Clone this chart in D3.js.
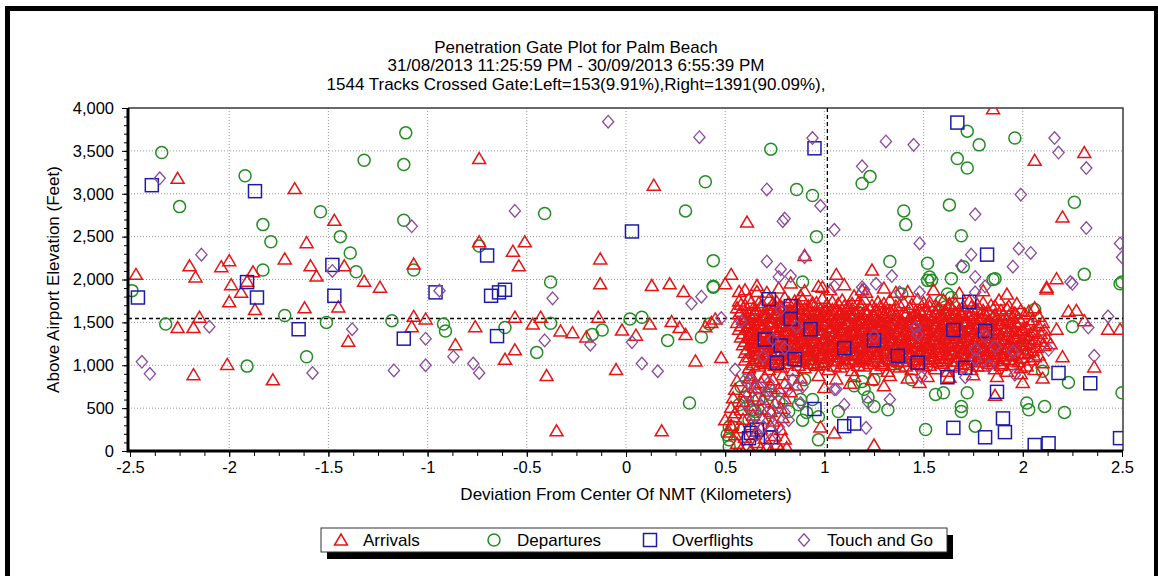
<!DOCTYPE html>
<html><head><meta charset="utf-8">
<script src="https://cdn.jsdelivr.net/npm/d3@7"></script>
<style>body{margin:0;background:#fff}svg{display:block}text{font-family:"Liberation Sans",Arial,sans-serif}</style>
</head><body><svg id="c" width="1158" height="576"></svg>
<script>
const titleLines = ["Penetration Gate Plot for Palm Beach","31/08/2013 11:25:59 PM - 30/09/2013 6:55:39 PM","1544 Tracks Crossed Gate:Left=153(9.91%),Right=1391(90.09%),"];
const xTicks = [-2.5,-2,-1.5,-1,-0.5,0,0.5,1,1.5,2,2.5];
const xTickLabels = ["-2.5","-2","-1.5","-1","-0.5","0","0.5","1","1.5","2","2.5"];
const yTicks = [0,500,1000,1500,2000,2500,3000,3500,4000];
const yTickLabels = ["0","500","1,000","1,500","2,000","2,500","3,000","3,500","4,000"];
const xTitle = "Deviation From Center Of NMT (Kilometers)";
const yTitle = "Above Airport Elevation (Feet)";
const gateX = 1.015, gateY = 1545;
const seriesNames = ["Arrivals","Departures","Overflights","Touch and Go"];

const arrivalsSparse = [[-2.47,2060],[-2.26,3180],[-2.2,2160],[-2.17,2030],[-2.26,1440],[-2.18,1440],[-2.15,1560],[-2.18,890],[-2.04,2150],[-2.0,2220],[-1.99,1940],[-1.94,1850],[-2.0,1740],[-1.88,2090],[-1.91,1980],[-1.87,1650],[-2.01,1010],[-1.78,830],[-1.72,2240],[-1.67,3060],[-1.61,2430],[-1.59,2160],[-1.56,2040],[-1.62,1670],[-1.47,2690],[-1.45,1680],[-1.42,2160],[-1.32,1980],[-1.24,1910],[-1.4,1280],[-1.07,2180],[-1.07,1570],[-1.08,1450],[-1.01,1540],[-0.86,1240],[-0.74,3410],[-0.74,2440],[-0.76,1450],[-0.61,1070],[-0.56,1180],[-0.57,2330],[-0.54,2160],[-0.56,1560],
[0.14,3100],[-0.13,2240],[-0.13,1950],[-0.51,2440],[0.61,2670],[0.9,2280],[1.85,3990],[2.06,3390],[2.31,3480],[2.2,2730],[2.17,2010],[2.12,1910],[1.24,2110],[1.06,2060],[0.13,1930],[0.22,1950],[0.53,2060],[0.5,1950],[0.99,1910],[1.21,1850],[1.36,1850],[0.29,1860],[0.57,1860],[0.66,1860],[0.88,1810],[1.15,1810],
[-0.47,1480],[-0.43,1560],[-0.4,880],[-0.35,235],[-0.33,1400],[-0.27,1380],[-0.2,1330],[-0.14,1560],[-0.05,950],[-0.02,1410],[0.05,1350],[0.12,1480],[0.18,235],[0.23,1510],[0.27,1440],[0.35,1050],[0.4,1450],[0.45,1540],[0.43,1500],[0.48,1090],[0.3,1360],
[0.5,364],[0.55,446],[0.52,223],[0.98,280],[1.25,70],[1.05,210],[1.86,650],[2.1,850],
[2.12,1890],[2.23,1630],[2.27,1640],[2.43,1420],[2.36,980],[2.0,800],[2.49,1420],[2.17,1420],[2.14,1250],[2.2,1100],[2.31,1520]];

const arrivalsCore = [
[0.6,1880],[0.66,1930],[0.71,1850],[0.77,1900],[0.83,1960],[0.9,1870],[0.97,1920],[1.03,1880],[1.1,1940],[1.19,1880],[1.3,1900],[1.42,1860],[1.55,1880],[1.68,1840],[1.8,1870],[1.92,1830],
[0.57,1750],[0.62,1780],[0.67,1730],[0.72,1770],[0.76,1740],[0.8,1790],[0.85,1750],[0.89,1770],[0.94,1730],[0.99,1780],[1.04,1740],[1.09,1760],[1.14,1720],[1.2,1770],[1.27,1740],[1.33,1760],[1.4,1730],[1.47,1770],[1.53,1740],[1.6,1760],[1.66,1720],[1.73,1750],[1.8,1730],[1.88,1760],[1.97,1720],
[0.56,1670],[0.6,1700],[0.64,1660],[0.68,1690],[0.72,1650],[0.75,1700],[0.79,1670],[0.83,1640],[0.86,1690],[0.9,1660],[0.94,1700],[0.98,1650],[1.02,1680],[1.06,1640],[1.1,1690],[1.14,1660],[1.19,1700],[1.23,1650],[1.28,1680],[1.33,1640],[1.38,1700],[1.43,1670],[1.48,1640],[1.53,1690],[1.58,1660],[1.63,1700],[1.68,1650],[1.74,1680],[1.8,1640],[1.86,1690],[1.92,1660],[1.99,1640],[2.06,1670],
[0.57,1600],[0.61,1570],[0.65,1610],[0.69,1580],[0.72,1550],[0.76,1600],[0.8,1570],[0.83,1610],[0.87,1560],[0.91,1590],[0.95,1620],[0.98,1570],[1.02,1600],[1.06,1560],[1.1,1610],[1.13,1580],[1.17,1550],[1.21,1600],[1.25,1570],[1.29,1610],[1.33,1580],[1.37,1550],[1.41,1600],[1.45,1570],[1.49,1610],[1.53,1580],[1.57,1550],[1.61,1600],[1.65,1570],[1.69,1610],[1.73,1580],[1.77,1550],[1.81,1600],[1.85,1570],[1.9,1590],[1.95,1560],[2.01,1600],[2.08,1570],
[0.56,1500],[0.6,1530],[0.63,1490],[0.67,1520],[0.7,1480],[0.74,1510],[0.77,1540],[0.81,1490],[0.84,1520],[0.88,1480],[0.91,1530],[0.95,1500],[0.98,1470],[1.01,1520],[1.05,1490],[1.08,1530],[1.12,1500],[1.15,1470],[1.19,1520],[1.22,1490],[1.26,1530],[1.29,1500],[1.33,1470],[1.36,1520],[1.4,1490],[1.43,1530],[1.47,1500],[1.5,1470],[1.54,1520],[1.57,1490],[1.61,1530],[1.64,1500],[1.68,1470],[1.71,1520],[1.75,1490],[1.78,1530],[1.82,1500],[1.86,1470],[1.9,1520],[1.94,1490],[1.99,1510],[2.04,1480],[2.1,1500],
[0.57,1420],[0.61,1440],[0.64,1400],[0.68,1430],[0.71,1390],[0.75,1420],[0.78,1450],[0.82,1400],[0.85,1430],[0.89,1390],[0.92,1440],[0.96,1410],[0.99,1380],[1.03,1430],[1.06,1400],[1.1,1440],[1.13,1410],[1.17,1380],[1.2,1430],[1.24,1400],[1.27,1440],[1.31,1410],[1.34,1380],[1.38,1430],[1.41,1400],[1.45,1440],[1.48,1410],[1.52,1380],[1.55,1430],[1.59,1400],[1.62,1440],[1.66,1410],[1.69,1380],[1.73,1430],[1.76,1400],[1.8,1440],[1.83,1410],[1.87,1380],[1.91,1430],[1.95,1400],[2.0,1420],[2.05,1390],[2.11,1410],
[0.58,1330],[0.62,1350],[0.65,1310],[0.69,1340],[0.72,1300],[0.76,1330],[0.79,1360],[0.83,1310],[0.86,1340],[0.9,1300],[0.93,1350],[0.97,1320],[1.0,1290],[1.04,1340],[1.07,1310],[1.11,1350],[1.14,1320],[1.18,1290],[1.21,1340],[1.25,1310],[1.28,1350],[1.32,1320],[1.35,1290],[1.39,1340],[1.42,1310],[1.46,1350],[1.49,1320],[1.53,1290],[1.56,1340],[1.6,1310],[1.63,1350],[1.67,1320],[1.7,1290],[1.74,1340],[1.77,1310],[1.81,1350],[1.84,1320],[1.88,1290],[1.92,1340],[1.96,1310],[2.01,1330],[2.06,1300],[2.12,1320],
[0.59,1240],[0.63,1260],[0.66,1220],[0.7,1250],[0.73,1210],[0.77,1240],[0.8,1270],[0.84,1220],[0.87,1250],[0.91,1210],[0.94,1260],[0.98,1230],[1.01,1200],[1.05,1250],[1.08,1220],[1.12,1260],[1.15,1230],[1.19,1200],[1.22,1250],[1.26,1220],[1.29,1260],[1.33,1230],[1.36,1200],[1.4,1250],[1.43,1220],[1.47,1260],[1.5,1230],[1.54,1200],[1.57,1250],[1.61,1220],[1.64,1260],[1.68,1230],[1.71,1200],[1.75,1250],[1.78,1220],[1.82,1260],[1.85,1230],[1.89,1200],[1.93,1250],[1.97,1220],[2.02,1240],[2.07,1210],[2.11,1230],
[0.6,1150],[0.64,1170],[0.67,1130],[0.71,1160],[0.74,1120],[0.78,1150],[0.81,1180],[0.85,1130],[0.88,1160],[0.92,1120],[0.95,1170],[0.99,1140],[1.02,1110],[1.06,1160],[1.09,1130],[1.13,1170],[1.16,1140],[1.2,1110],[1.23,1160],[1.27,1130],[1.3,1170],[1.34,1140],[1.37,1110],[1.41,1160],[1.44,1130],[1.48,1170],[1.51,1140],[1.55,1110],[1.58,1160],[1.62,1130],[1.65,1170],[1.69,1140],[1.72,1110],[1.76,1160],[1.79,1130],[1.83,1170],[1.86,1140],[1.9,1110],[1.94,1160],[1.98,1130],[2.03,1150],[2.08,1120],
[0.6,1060],[0.65,1080],[0.69,1040],[0.73,1070],[0.77,1030],[0.81,1060],[0.85,1090],[0.89,1040],[0.93,1070],[0.97,1030],[1.01,1080],[1.05,1050],[1.09,1020],[1.13,1070],[1.17,1040],[1.21,1080],[1.25,1050],[1.29,1020],[1.33,1070],[1.37,1040],[1.41,1080],[1.45,1050],[1.49,1020],[1.53,1070],[1.57,1040],[1.61,1080],[1.65,1050],[1.69,1020],[1.73,1070],[1.77,1040],[1.81,1080],[1.85,1050],[1.89,1020],[1.93,1070],[1.98,1040],[2.04,1060],[2.1,1030],
[0.62,970],[0.67,990],[0.72,950],[0.78,980],[0.84,940],[0.9,970],[0.96,1000],[1.02,950],[1.08,980],[1.14,940],[1.2,990],[1.26,960],[1.32,930],[1.38,980],[1.44,950],[1.5,990],[1.56,960],[1.62,930],[1.68,980],[1.74,950],[1.8,990],[1.86,960],[1.92,930],[1.99,970],[2.06,950],
[0.63,880],[0.7,860],[0.79,890],[0.88,850],[0.97,880],[1.06,840],[1.15,870],[1.24,830],[1.33,880],[1.42,850],[1.52,870],[1.63,860],[1.75,890],[1.87,870],[1.99,900],
[0.65,780],[0.73,750],[0.86,770],[1.0,740],[1.13,790],[1.3,760],[1.48,800]];

const arrivalsCore2 = [
[0.58,1710],[0.63,1730],[0.69,1700],[0.74,1720],[0.78,1690],[0.82,1730],[0.87,1710],[0.92,1690],[0.96,1730],[1.01,1700],[1.07,1720],[1.12,1690],[1.17,1730],[1.24,1700],[1.3,1720],[1.36,1690],[1.44,1710],[1.5,1730],[1.56,1700],[1.63,1720],[1.7,1690],[1.77,1710],[1.84,1700],[1.93,1690],
[0.58,1630],[0.62,1610],[0.66,1640],[0.7,1620],[0.74,1650],[0.77,1610],[0.81,1630],[0.85,1650],[0.88,1620],[0.92,1640],[0.96,1610],[1.0,1630],[1.04,1650],[1.08,1620],[1.12,1640],[1.16,1610],[1.21,1630],[1.26,1650],[1.31,1620],[1.35,1640],[1.4,1610],[1.46,1630],[1.51,1650],[1.56,1620],[1.61,1640],[1.66,1610],[1.71,1630],[1.77,1650],[1.83,1620],[1.89,1640],[1.96,1610],[2.03,1630],
[0.59,1540],[0.63,1560],[0.67,1530],[0.7,1550],[0.74,1570],[0.78,1530],[0.81,1550],[0.85,1530],[0.89,1560],[0.93,1540],[0.96,1520],[1.0,1560],[1.04,1540],[1.08,1520],[1.11,1550],[1.15,1570],[1.19,1530],[1.23,1550],[1.27,1520],[1.31,1560],[1.35,1540],[1.39,1520],[1.43,1560],[1.47,1540],[1.51,1520],[1.55,1550],[1.59,1570],[1.63,1530],[1.67,1550],[1.71,1520],[1.75,1560],[1.79,1540],[1.83,1520],[1.87,1550],[1.92,1530],[1.98,1550],[2.05,1530],
[0.58,1460],[0.62,1440],[0.65,1470],[0.69,1450],[0.72,1480],[0.76,1440],[0.79,1460],[0.83,1480],[0.86,1450],[0.9,1470],[0.93,1440],[0.97,1460],[1.0,1480],[1.03,1450],[1.07,1470],[1.1,1440],[1.14,1460],[1.17,1480],[1.21,1450],[1.24,1470],[1.28,1440],[1.31,1460],[1.35,1480],[1.38,1450],[1.42,1470],[1.45,1440],[1.49,1460],[1.52,1480],[1.56,1450],[1.59,1470],[1.63,1440],[1.66,1460],[1.7,1480],[1.73,1450],[1.77,1470],[1.8,1440],[1.84,1460],[1.88,1480],[1.92,1450],[1.97,1470],[2.02,1440],[2.08,1460],
[0.59,1370],[0.63,1390],[0.66,1360],[0.7,1380],[0.73,1350],[0.77,1390],[0.8,1370],[0.84,1350],[0.87,1390],[0.91,1370],[0.94,1350],[0.98,1380],[1.01,1360],[1.05,1390],[1.08,1370],[1.12,1350],[1.15,1380],[1.19,1360],[1.22,1390],[1.26,1370],[1.29,1350],[1.33,1380],[1.36,1360],[1.4,1390],[1.43,1370],[1.47,1350],[1.5,1380],[1.54,1360],[1.57,1390],[1.61,1370],[1.64,1350],[1.68,1380],[1.71,1360],[1.75,1390],[1.78,1370],[1.82,1350],[1.85,1380],[1.89,1360],[1.93,1390],[1.98,1370],[2.03,1350],[2.09,1370],
[0.6,1280],[0.64,1300],[0.67,1270],[0.71,1290],[0.74,1260],[0.78,1300],[0.81,1280],[0.85,1260],[0.88,1300],[0.92,1280],[0.95,1260],[0.99,1290],[1.02,1270],[1.06,1300],[1.09,1280],[1.13,1260],[1.16,1290],[1.2,1270],[1.23,1300],[1.27,1280],[1.3,1260],[1.34,1290],[1.37,1270],[1.41,1300],[1.44,1280],[1.48,1260],[1.51,1290],[1.55,1270],[1.58,1300],[1.62,1280],[1.65,1260],[1.69,1290],[1.72,1270],[1.76,1300],[1.79,1280],[1.83,1260],[1.86,1290],[1.9,1270],[1.94,1300],[1.99,1280],[2.04,1260],[2.09,1280],
[0.61,1190],[0.65,1210],[0.68,1180],[0.72,1200],[0.75,1170],[0.79,1210],[0.82,1190],[0.86,1170],[0.89,1210],[0.93,1190],[0.96,1170],[1.0,1200],[1.03,1180],[1.07,1210],[1.1,1190],[1.14,1170],[1.17,1200],[1.21,1180],[1.24,1210],[1.28,1190],[1.31,1170],[1.35,1200],[1.38,1180],[1.42,1210],[1.45,1190],[1.49,1170],[1.52,1200],[1.56,1180],[1.59,1210],[1.63,1190],[1.66,1170],[1.7,1200],[1.73,1180],[1.77,1210],[1.8,1190],[1.84,1170],[1.87,1200],[1.91,1180],[1.95,1210],[2.0,1190],[2.05,1170],
[0.62,1100],[0.66,1120],[0.7,1090],[0.74,1110],[0.78,1080],[0.82,1120],[0.86,1100],[0.9,1080],[0.94,1110],[0.98,1090],[1.02,1120],[1.06,1100],[1.1,1080],[1.14,1110],[1.18,1090],[1.22,1120],[1.26,1100],[1.3,1080],[1.34,1110],[1.38,1090],[1.42,1120],[1.46,1100],[1.5,1080],[1.54,1110],[1.58,1090],[1.62,1120],[1.66,1100],[1.7,1080],[1.74,1110],[1.78,1090],[1.82,1120],[1.86,1100],[1.9,1080],[1.95,1110],[2.0,1090],[2.06,1100],
[0.64,1010],[0.7,1020],[0.75,1000],[0.81,1020],[0.87,1000],[0.93,1020],[0.99,1010],[1.05,990],[1.11,1020],[1.17,1000],[1.23,1020],[1.29,1000],[1.35,1010],[1.41,990],[1.47,1020],[1.53,1000],[1.59,1020],[1.65,1000],[1.71,1010],[1.77,990],[1.83,1020],[1.89,1000],[1.95,1010],[2.02,990]];

const arrivalsCore3 = [
[0.64,1590],[0.7,1575],[0.75,1595],[0.81,1585],[0.86,1600],[0.92,1575],[0.97,1590],[1.03,1580],[1.08,1595],[1.14,1575],[1.19,1590],[1.25,1585],[1.3,1600],[1.36,1575],[1.41,1590],[1.47,1580],[1.52,1595],[1.58,1575],[1.63,1590],[1.69,1585],[1.74,1600],[1.8,1575],[1.86,1590],[1.93,1580],
[0.62,1500],[0.67,1485],[0.73,1505],[0.78,1495],[0.84,1510],[0.89,1485],[0.95,1500],[1.0,1490],[1.06,1505],[1.11,1485],[1.17,1500],[1.22,1495],[1.28,1510],[1.33,1485],[1.39,1500],[1.44,1490],[1.5,1505],[1.55,1485],[1.61,1500],[1.66,1495],[1.72,1510],[1.77,1485],[1.83,1500],[1.89,1490],[1.96,1505],
[0.64,1410],[0.7,1395],[0.75,1415],[0.81,1405],[0.86,1420],[0.92,1395],[0.97,1410],[1.03,1400],[1.08,1415],[1.14,1395],[1.19,1410],[1.25,1405],[1.3,1420],[1.36,1395],[1.41,1410],[1.47,1400],[1.52,1415],[1.58,1395],[1.63,1410],[1.69,1405],[1.74,1420],[1.8,1395],[1.86,1410],[1.93,1400],[2.0,1405],
[0.62,1320],[0.67,1305],[0.73,1325],[0.78,1315],[0.84,1330],[0.89,1305],[0.95,1320],[1.0,1310],[1.06,1325],[1.11,1305],[1.17,1320],[1.22,1315],[1.28,1330],[1.33,1305],[1.39,1320],[1.44,1310],[1.5,1325],[1.55,1305],[1.61,1320],[1.66,1315],[1.72,1330],[1.77,1305],[1.83,1320],[1.89,1310],[1.96,1325],[2.03,1310],
[0.64,1230],[0.7,1215],[0.75,1235],[0.81,1225],[0.86,1240],[0.92,1215],[0.97,1230],[1.03,1220],[1.08,1235],[1.14,1215],[1.19,1230],[1.25,1225],[1.3,1240],[1.36,1215],[1.41,1230],[1.47,1220],[1.52,1235],[1.58,1215],[1.63,1230],[1.69,1225],[1.74,1240],[1.8,1215],[1.86,1230],[1.93,1220],[2.0,1235],
[0.65,1140],[0.71,1125],[0.76,1145],[0.82,1135],[0.87,1150],[0.93,1125],[0.98,1140],[1.04,1130],[1.09,1145],[1.15,1125],[1.2,1140],[1.26,1135],[1.31,1150],[1.37,1125],[1.42,1140],[1.48,1130],[1.53,1145],[1.59,1125],[1.64,1140],[1.7,1135],[1.75,1150],[1.81,1125],[1.87,1140],[1.94,1130],[2.01,1140],
[0.67,1055],[0.74,1045],[0.8,1065],[0.87,1050],[0.94,1060],[1.0,1045],[1.07,1060],[1.14,1050],[1.2,1065],[1.27,1045],[1.34,1055],[1.4,1050],[1.47,1065],[1.54,1045],[1.6,1055],[1.67,1050],[1.74,1060],[1.8,1045],[1.87,1055],[1.95,1050]];

const arrivalsStripe = [[0.56,820],[0.62,850],[0.68,800],[0.74,830],[0.8,790],[0.55,720],[0.6,690],[0.65,740],[0.71,700],[0.77,730],[0.83,690],[0.54,620],[0.59,580],[0.64,640],[0.69,600],[0.75,560],[0.8,610],[0.53,510],[0.58,480],[0.63,530],[0.68,490],[0.73,460],[0.78,500],[0.54,400],[0.59,370],[0.64,420],[0.69,380],[0.74,350],[0.79,390],[0.53,300],[0.58,270],[0.63,310],[0.68,260],[0.73,290],[0.78,250],[0.55,190],[0.6,160],[0.65,200],[0.7,150],[0.75,180],[0.8,140],[0.56,90],[0.61,60],[0.66,100],[0.71,50],[0.76,80],[0.81,40],[0.58,20],[0.63,10],[0.68,30],[0.73,5],[0.78,15]];

const departures = [[-2.34,3480],[-2.25,2850],[-2.49,1870],[-2.32,1480],[-1.92,3210],[-1.83,2640],[-1.79,2440],[-1.83,2110],[-1.91,990],[-1.72,1580],[-1.61,1100],[-1.54,2790],[-1.44,2500],[-1.39,2310],[-1.36,2090],[-1.51,1500],[-1.32,3390],[-1.12,3340],[-1.11,3710],[-1.12,2690],[-1.07,2110],[-1.18,1520],[-0.92,1480],[-0.91,1400],[-0.74,2390],[-0.61,1440],
[-0.41,2770],[-0.38,1970],[0.3,2800],[0.4,3140],[0.44,2220],[0.44,1920],[0.73,3520],[0.86,3050],[0.94,2980],[0.96,2500],[0.89,1970],
[1.72,3730],[1.78,3570],[1.96,3650],[1.67,3410],[1.72,3300],[1.23,3200],[1.19,3120],[1.63,2870],[1.4,2800],[1.41,2640],[1.69,2510],[2.26,2900],[1.33,2210],[1.52,2190],[1.7,2150],[1.52,1990],[1.54,1990],[1.64,2010],[1.85,2000],[2.31,2060],[2.5,1970],[1.62,1830],
[1.15,760],[1.2,720],[1.22,630],[1.32,480],[1.25,520],[1.56,660],[1.6,680],[1.72,680],[1.69,520],[1.69,460],[1.76,290],[1.51,250],[2.02,560],[2.03,480],[2.11,520],[2.21,450],[2.23,800],[2.1,930],[2.25,1450],[2.06,1650],[2.49,1950],[1.17,1620],[1.25,830],[1.19,810],[1.44,830],[1.53,2030],[1.59,1750],[1.64,1790],[1.61,1680],[1.86,2010],[2.5,680],
[0.94,1160],[1.37,1030],[1.19,1420],[0.73,1240],[1.85,1300],[2.0,1240],[1.39,1830],
[0.62,910],[0.58,750],[0.6,630],[0.57,540],[0.67,600],[0.65,460],[0.72,450],[0.77,570],[0.73,660],[0.82,460],[0.87,540],[0.94,600],[0.89,360],[0.51,190],[0.52,50],[0.54,280],[0.62,360],[0.9,830],[0.97,400],[0.95,1010],[0.68,1030],[0.64,480],[0.52,280],[0.52,130],[0.91,450],[0.88,600],[1.07,460],[0.97,130],[0.32,560],[0.44,1910],
[-0.45,1150],[-0.38,1490],[-0.17,1360],[-0.12,1410],[0.02,1540],[0.08,1560],[0.21,1290],[0.42,1480],[0.38,1330]];

const overflights = [[-2.39,3100],[-2.46,1790],[-1.87,3030],[-1.91,1970],[-1.86,1790],[-1.65,1420],[-1.48,2170],[-1.47,1810],[-1.12,1310],[-0.96,1850],[-0.7,2280],[-0.65,1340],[-0.68,1810],[-0.64,1850],[-0.61,1880],
[0.03,2560],[0.95,3530],[1.67,3830],[1.82,2290],
[0.72,1770],[0.83,1690],[0.83,1540],[0.93,1420],[0.7,1300],[0.78,1230],[0.76,1030],[0.85,1070],[0.95,490],[0.63,210],[0.66,250],[0.73,160],[0.62,150],
[1.1,1200],[1.25,1290],[1.37,1110],[1.47,1030],[1.65,1410],[1.73,1740],[1.81,1400],[1.71,970],[1.62,860],[1.87,690],[2.18,910],[2.34,790],[1.1,290],[1.15,320],[1.65,270],[1.81,160],[1.9,380],[1.91,220],[2.06,70],[2.13,90],[2.49,150]];

const touchAndGo = [[-2.35,3180],[-2.44,1040],[-2.4,900],[-2.14,2290],[-2.1,1450],[-1.48,2100],[-1.38,1420],[-1.58,910],[-1.08,2620],[-1.01,1310],[-1.01,1000],[-1.17,940],[-0.94,1870],[-0.87,1100],[-0.77,1020],[-0.74,910],[-0.56,2800],
[-0.09,3840],[0.37,3660],[0.94,3650],[0.71,3050],[0.98,2860],[0.79,2680],[0.8,2710],[1.05,2580],[0.71,2210],[0.78,2120],[0.77,2030],[0.83,2040],[0.9,2260],[1.31,3610],[1.45,3570],[1.19,3320],[1.48,2420],[1.76,2760],[1.99,2990],[2.16,3650],[2.18,3480],[2.32,3300],[2.32,2600],[1.98,2360],[2.04,2310],[1.95,2150],[1.76,2030],[1.74,2290],[1.69,2160],[2.24,1970],[2.5,2260],[2.49,2420],[1.05,1920],[1.19,1910],[1.26,1950],[1.34,2040],[1.48,1850],[1.76,1850],
[1.38,1850],[1.81,1920],[2.13,1180],[2.33,1440],[2.36,1110],[2.43,1570],[2.25,1950],[1.05,720],[1.1,540],[1.22,570],[1.33,600],[1.21,270],[1.46,1440],[1.49,860],[1.96,890],[1.83,990],[1.76,1070],[1.86,1220],[1.95,1160],[1.71,860],[1.2,1880],[1.47,1360],[1.25,1340],[1.76,1180],[1.81,1340],
[0.58,1510],[0.55,950],[0.63,830],[0.67,740],[0.72,800],[0.62,660],[0.7,630],[0.75,680],[0.79,560],[0.68,520],[0.74,460],[0.8,450],[0.65,400],[0.72,360],[0.82,360],[0.77,280],[0.69,280],[0.84,830],[0.82,720],[0.89,750],[0.88,560],[0.6,830],[1.06,720],[0.61,540],[0.66,190],[0.73,130],[0.78,1650],[0.86,1450],[0.74,1300],[0.8,1200],[0.69,1100],
[-0.37,1780],[-0.41,1290],[-0.18,1240],[0.03,1270],[0.08,1020],[0.16,930],[0.33,1720],[0.38,1800],[0.48,1550]];

const svg = d3.select("#c");
const W = 1158, H = 576;
const L = 128, R = 1123, T = 108, B = 451;
const x = d3.scaleLinear().domain([-2.5,2.5]).range([130,1122]);
const y = d3.scaleLinear().domain([0,4000]).range([451,108]);

svg.append("rect").attr("x",0).attr("y",0).attr("width",W).attr("height",H).attr("fill","#fff");
svg.append("rect").attr("x",7.5).attr("y",8.5).attr("width",1149).attr("height",620).attr("fill","none").attr("stroke","#000").attr("stroke-width",5);

const fontSize = 17, tickFont = 16.5;
svg.append("g").selectAll("text").data(titleLines).join("text")
  .attr("x",576).attr("y",(d,i)=>52.5+i*18.8).attr("text-anchor","middle").attr("font-size",fontSize).attr("fill","#000").text(d=>d);

const grid = svg.append("g");
grid.selectAll("line.gx").data(xTicks.slice(1,-1)).join("line")
  .attr("x1",d=>x(d)).attr("x2",d=>x(d)).attr("y1",T).attr("y2",B)
  .attr("stroke","#9a9a9a").attr("stroke-width",1).attr("stroke-dasharray","1,2");
grid.selectAll("line.gy").data(yTicks.slice(1,-1)).join("line")
  .attr("x1",L).attr("x2",R).attr("y1",d=>y(d)).attr("y2",d=>y(d))
  .attr("stroke","#9a9a9a").attr("stroke-width",1).attr("stroke-dasharray","1,2");

svg.append("path").attr("d",`M${L},${T}H${R}V${B}`).attr("fill","none").attr("stroke","#3a3a3a").attr("stroke-width",1.5);

svg.append("defs").append("clipPath").attr("id","pc").append("rect").attr("x",L).attr("y",T).attr("width",R-L).attr("height",B-T);
const plot = svg.append("g").attr("clip-path","url(#pc)");

plot.append("line").attr("x1",L).attr("x2",R).attr("y1",y(gateY)).attr("y2",y(gateY)).attr("stroke","#000").attr("stroke-width",1.3).attr("stroke-dasharray","4,3");
plot.append("line").attr("x1",x(gateX)).attr("x2",x(gateX)).attr("y1",T).attr("y2",B).attr("stroke","#000").attr("stroke-width",1.3).attr("stroke-dasharray","4,3");

const colors = {arr:"#e81414", dep:"#238c23", ovr:"#1c1ca8", tng:"#8a4a9c"};
const triPath = "M0,-6L6.5,5L-6.5,5Z";
const diaPath = "M0,-6.3L5.6,0L0,6.3L-5.6,0Z";
const sw = 1.5;

plot.append("g").selectAll("circle").data(departures).join("circle")
  .attr("cx",d=>x(d[0])).attr("cy",d=>y(d[1])).attr("r",6)
  .attr("fill","none").attr("stroke",colors.dep).attr("stroke-width",sw);
const allArr = arrivalsSparse.concat(arrivalsStripe, arrivalsCore, arrivalsCore2, arrivalsCore3);
plot.append("g").selectAll("path").data(allArr).join("path")
  .attr("d",triPath).attr("transform",d=>`translate(${x(d[0])},${y(d[1])})`)
  .attr("fill","none").attr("stroke",colors.arr).attr("stroke-width",sw);
plot.append("g").selectAll("rect").data(overflights).join("rect")
  .attr("x",d=>x(d[0])-6.5).attr("y",d=>y(d[1])-6.5).attr("width",13).attr("height",13)
  .attr("fill","none").attr("stroke",colors.ovr).attr("stroke-width",sw);
plot.append("g").selectAll("path").data(touchAndGo).join("path")
  .attr("d",diaPath).attr("transform",d=>`translate(${x(d[0])},${y(d[1])})`)
  .attr("fill","none").attr("stroke",colors.tng).attr("stroke-width",1.3);

const yAxisMinor = d3.axisLeft(y).tickValues(d3.range(0,4001,100)).tickFormat("").tickSize(4).tickSizeOuter(0);
const gyMinor = svg.append("g").attr("transform",`translate(${L},0)`).call(yAxisMinor);
gyMinor.select(".domain").remove();
const yAxis = d3.axisLeft(y).tickValues(yTicks).tickFormat((d,i)=>yTickLabels[i]).tickSize(6).tickSizeOuter(0).tickPadding(8);
const gy = svg.append("g").attr("transform",`translate(${L},0)`).call(yAxis);
gy.select(".domain").remove();
gy.selectAll("text").attr("font-size",tickFont).attr("font-family","Liberation Sans, Arial, sans-serif").attr("fill","#000");

const xAxisMinor = d3.axisBottom(x).tickValues(d3.range(-2.5,2.5001,0.125)).tickFormat("").tickSize(5).tickSizeOuter(0);
const gxMinor = svg.append("g").attr("transform",`translate(0,${B})`).call(xAxisMinor);
gxMinor.select(".domain").remove();
const xAxis = d3.axisBottom(x).tickValues(xTicks).tickFormat((d,i)=>xTickLabels[i]).tickSize(6).tickSizeOuter(0).tickPadding(4);
const gx = svg.append("g").attr("transform",`translate(0,${B})`).call(xAxis);
gx.select(".domain").remove();
gx.selectAll("text").attr("font-size",tickFont).attr("font-family","Liberation Sans, Arial, sans-serif").attr("fill","#000");

svg.append("path").attr("d",`M${L},${T}V${B}H${R}`).attr("fill","none").attr("stroke","#000").attr("stroke-width",3);

svg.append("text").attr("x",626).attr("y",500).attr("text-anchor","middle").attr("font-size",fontSize).text(xTitle);
svg.append("text").attr("transform",`translate(59,${(T+B)/2}) rotate(-90)`).attr("text-anchor","middle").attr("font-size",fontSize).text(yTitle);

const lg = svg.append("g");
lg.append("rect").attr("x",327).attr("y",535).attr("width",626).attr("height",24).attr("fill","#000");
lg.append("rect").attr("x",321).attr("y",528).attr("width",626).attr("height",24).attr("fill","#fff").attr("stroke","#333").attr("stroke-width",1);
const lgX = [341,494,650,804];
const lgTextX = [363,517,672,827];
const ly = 540;
lg.append("path").attr("d",triPath).attr("transform",`translate(${lgX[0]},${ly})`).attr("fill","none").attr("stroke",colors.arr).attr("stroke-width",sw);
lg.append("circle").attr("cx",lgX[1]).attr("cy",ly).attr("r",6).attr("fill","none").attr("stroke",colors.dep).attr("stroke-width",sw);
lg.append("rect").attr("x",lgX[2]-6.5).attr("y",ly-6.5).attr("width",13).attr("height",13).attr("fill","none").attr("stroke",colors.ovr).attr("stroke-width",sw);
lg.append("path").attr("d",diaPath).attr("transform",`translate(${lgX[3]},${ly})`).attr("fill","none").attr("stroke",colors.tng).attr("stroke-width",1.3);
lg.selectAll("text").data(seriesNames).join("text")
  .attr("x",(d,i)=>lgTextX[i]).attr("y",ly+6).attr("font-size",fontSize).attr("fill","#000").text(d=>d);
</script></body></html>
